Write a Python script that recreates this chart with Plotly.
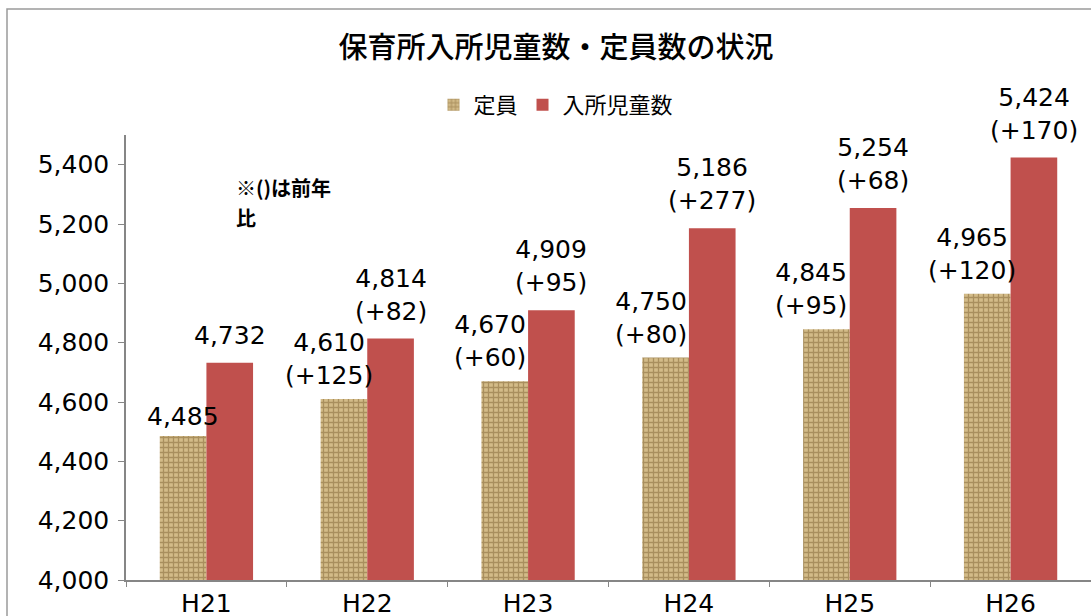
import plotly.graph_objects as go

categories = ["H21", "H22", "H23", "H24", "H25", "H26"]
capacity = [4485, 4610, 4670, 4750, 4845, 4965]
capacity_delta = [None, 125, 60, 80, 95, 120]
enrolled = [4732, 4814, 4909, 5186, 5254, 5424]
enrolled_delta = [None, 82, 95, 277, 68, 170]
y_ticks = [4000, 4200, 4400, 4600, 4800, 5000, 5200, 5400]
note_lines = ["※()は前年", "比"]

W, H = 1091, 616
ML, MR, MT, MB = 126, 0, 135, 36
BARGAP = 0.42
FONT = "DejaVu Sans, Noto Sans CJK JP"
RED = "#c0504d"
AX = "#868686"
NUM_SIZE = 25

plot_w = W - ML - MR
plot_h = H - MT - MB
cat_w = plot_w / len(categories)
bar_w = cat_w * (1 - BARGAP) / 2

fig = go.Figure()
fig.add_trace(go.Bar(
    name="定員", x=categories, y=capacity,
    marker=dict(color="#c0a46e", line=dict(width=0),
                pattern=dict(shape="+", fgcolor="#7f6434", bgcolor="#d3bb88",
                             size=5, solidity=0.45)),
))
fig.add_trace(go.Bar(
    name="入所児童数", x=categories, y=enrolled,
    marker=dict(color=RED, line=dict(width=0)),
))

def label(v, d):
    s = f"{v:,}"
    if d is not None:
        s += f"<br>(+{d})"
    return s

annotations = []
for c, v, d in zip(categories, capacity, capacity_delta):
    annotations.append(dict(
        x=c, y=v, xref="x", yref="y", text=label(v, d), showarrow=False,
        xanchor="center", yanchor="bottom",
        xshift=-bar_w / 2 - (15 if d is not None else 0),
        yshift=3 if d is None else 7,
        font=dict(family=FONT, size=NUM_SIZE, color="#000"),
    ))
for c, v, d in zip(categories, enrolled, enrolled_delta):
    annotations.append(dict(
        x=c, y=v, xref="x", yref="y", text=label(v, d), showarrow=False,
        xanchor="center", yanchor="bottom", xshift=bar_w / 2, yshift=11,
        font=dict(family=FONT, size=NUM_SIZE, color="#000"),
    ))
for i, line in enumerate(note_lines):
    annotations.append(dict(
        x=(234 - ML) / plot_w, y=(H - MB - (187 + 30 * i)) / plot_h,
        xref="paper", yref="paper",
        text=f"<b>{line}</b>", showarrow=False, xanchor="left", yanchor="middle",
        align="left", font=dict(family="Noto Sans CJK JP", size=20, color="#000"),
    ))

fig.update_layout(
    width=W, height=H,
    margin=dict(l=ML, r=MR, t=MT, b=MB, autoexpand=False),
    paper_bgcolor="white", plot_bgcolor="white",
    barmode="group", bargap=BARGAP, bargroupgap=0,
    title=dict(text="保育所入所児童数・定員数の状況", x=556 / W, xanchor="center",
               y=1 - 48 / H, yanchor="middle", yref="container",
               font=dict(family="Noto Sans CJK JP", size=29, color="#000", weight=500)),
    legend=dict(orientation="h", x=(556 - ML) / plot_w, xanchor="center",
                y=(H - MB - 105) / plot_h, yanchor="middle",
                font=dict(family="Noto Sans CJK JP", size=22, color="#000"),
                itemwidth=30, tracegroupgap=0),
    showlegend=True,
    annotations=annotations,
    xaxis=dict(type="category", showline=True, linecolor=AX, linewidth=1.5,
               ticks="outside", tickson="boundaries", ticklen=5, tickcolor=AX,
               ticklabelstandoff=0,
               tickfont=dict(family=FONT, size=NUM_SIZE, color="#000"), automargin=False,
               range=[-0.5, len(categories) - 0.5], showgrid=False),
    yaxis=dict(range=[4000, 5500], tickvals=y_ticks, tickformat=",d",
               showline=True, linecolor=AX, linewidth=1.5, ticks="outside",
               ticklen=6, tickcolor=AX, showgrid=False, zeroline=False,
               ticklabelstandoff=4, automargin=False,
               tickfont=dict(family=FONT, size=NUM_SIZE, color="#000")),
    shapes=[dict(type="rect", xref="paper", yref="paper",
                 x0=(7 - ML) / plot_w, x1=1.2,
                 y0=-0.5, y1=(H - MB - 9) / plot_h,
                 line=dict(color="#9a9a9a", width=1.5), layer="below")],
)

fig.write_html("out.html", config={"displayModeBar": False},
               post_script="document.body.style.margin='0';document.body.style.overflow='hidden';")
